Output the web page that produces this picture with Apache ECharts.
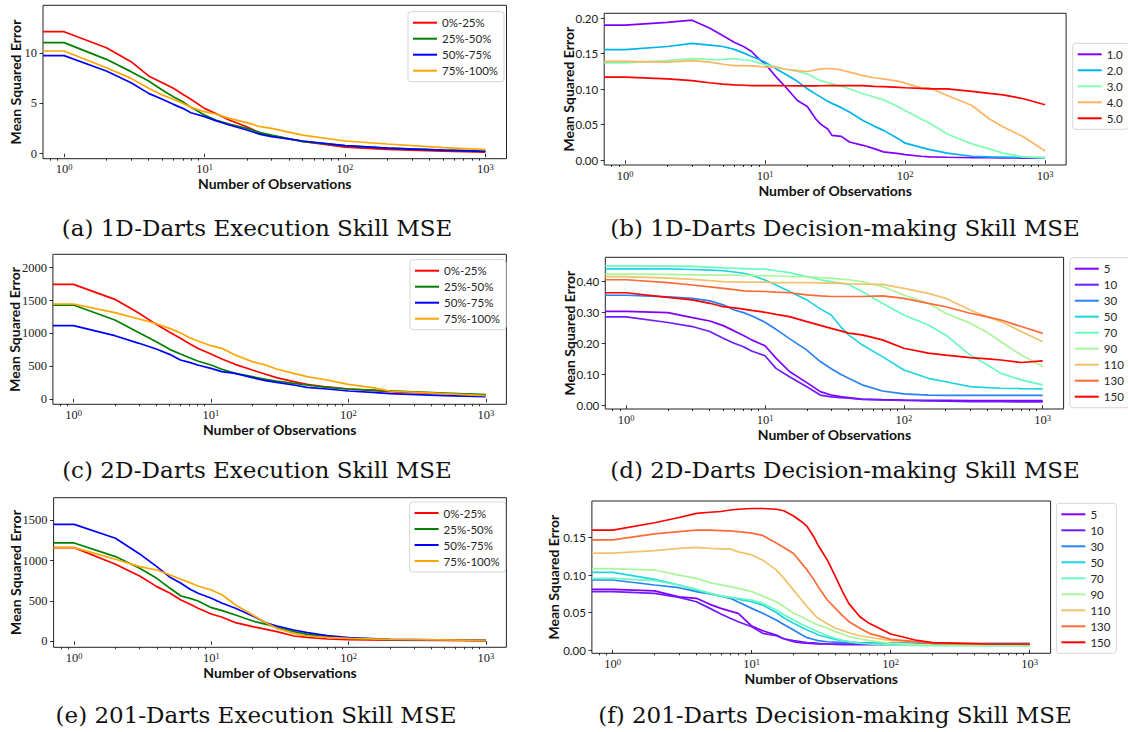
<!DOCTYPE html>
<html>
<head>
<meta charset="utf-8">
<script src="https://cdn.jsdelivr.net/npm/echarts@6/dist/echarts.min.js"></script>
<style>
  html, body { margin: 0; padding: 0; background: #fff; }
  #chart { width: 1128px; height: 732px; }
</style>
</head>
<body>
<div id="chart"></div>
<script>
// ---- shared axis values ----
const X_MIN = 0.708, X_MAX = 1413;            // log axis bounds (5% padding around 1..1000)
const X_MAJOR = [1, 10, 100, 1000];
const X_MINOR = [0.8, 0.9, 2, 3, 4, 5, 6, 7, 8, 9, 20, 30, 40, 50, 60, 70, 80, 90,
                 200, 300, 400, 500, 600, 700, 800, 900];

const QUART_NAMES = ['0%-25%', '25%-50%', '50%-75%', '75%-100%'];
const SKILL_1D_NAMES = ['1.0', '2.0', '3.0', '4.0', '5.0'];
const SKILL_2D_NAMES = ['5', '10', '30', '50', '70', '90', '110', '130', '150'];

const Y_TICKS_A = [0, 5, 10];
const Y_TICKS_B = [0, 0.05, 0.10, 0.15, 0.20];
const Y_TICKS_C = [0, 500, 1000, 1500, 2000];
const Y_TICKS_D = [0, 0.10, 0.20, 0.30, 0.40];
const Y_TICKS_E = [0, 500, 1000, 1500];
const Y_TICKS_F = [0, 0.05, 0.10, 0.15];

// ---- (a) 1D-Darts execution skill ----
const OBS_A = [1, 2, 3, 4, 5, 6, 7, 8, 10, 12, 15, 20, 25, 30, 50, 100, 200, 500, 1000];
const A_0_25   = [12.12, 10.53, 9.14, 7.72, 7.05, 6.49, 5.9, 5.4, 4.5, 4.0, 3.34, 2.68, 2.02, 1.79, 1.23, 0.65, 0.42, 0.25, 0.15];
const A_25_50  = [11.03, 9.37, 8.15, 7.22, 6.32, 5.66, 5.17, 4.6, 3.84, 3.34, 2.95, 2.52, 2.09, 1.85, 1.19, 0.80, 0.55, 0.35, 0.25];
const A_50_75  = [9.74, 8.21, 7.05, 5.99, 5.4, 4.9, 4.5, 4.07, 3.68, 3.28, 2.85, 2.35, 1.92, 1.69, 1.26, 0.80, 0.55, 0.35, 0.22];
const A_75_100 = [10.2, 8.54, 7.48, 6.49, 5.83, 5.4, 5.0, 4.6, 4.17, 3.94, 3.51, 3.08, 2.68, 2.52, 1.85, 1.26, 0.96, 0.6, 0.4];

// ---- (b) 1D-Darts decision-making skill ----
const OBS_B = [1, 2, 3, 4, 5, 6, 7, 8, 9, 10, 12, 14, 17, 20, 23, 25, 28, 30, 35, 40, 50, 60, 70, 90, 100, 130, 150, 200, 300, 400, 500, 700, 1000];
const B_1 = [0.190, 0.194, 0.197, 0.186, 0.175, 0.166, 0.160, 0.153, 0.1425, 0.1355, 0.117, 0.103, 0.084, 0.0757, 0.058, 0.0505, 0.044, 0.035, 0.0336, 0.0257, 0.021, 0.0164, 0.0117, 0.0093, 0.008, 0.0056, 0.0047, 0.0042, 0.0038, 0.0035, 0.0033, 0.0031, 0.003];
const B_2 = [0.1556, 0.160, 0.1645, 0.162, 0.160, 0.156, 0.151, 0.146, 0.142, 0.138, 0.1285, 0.121, 0.111, 0.1005, 0.093, 0.0888, 0.083, 0.080, 0.074, 0.0678, 0.056, 0.048, 0.042, 0.030, 0.024, 0.018, 0.015, 0.010, 0.0056, 0.0048, 0.0045, 0.004, 0.0037];
const B_3 = [0.137, 0.140, 0.143, 0.1416, 0.142, 0.143, 0.141, 0.140, 0.137, 0.1346, 0.131, 0.128, 0.125, 0.1215, 0.115, 0.112, 0.109, 0.1075, 0.104, 0.1005, 0.0935, 0.089, 0.085, 0.075, 0.070, 0.058, 0.052, 0.037, 0.023, 0.016, 0.010, 0.0047, 0.0033];
const B_4 = [0.139, 0.138, 0.140, 0.138, 0.135, 0.133, 0.133, 0.1327, 0.132, 0.131, 0.131, 0.128, 0.126, 0.1248, 0.127, 0.1285, 0.129, 0.129, 0.127, 0.124, 0.119, 0.116, 0.1145, 0.111, 0.1084, 0.102, 0.102, 0.091, 0.077, 0.058, 0.047, 0.033, 0.013];
const B_5 = [0.117, 0.1145, 0.112, 0.109, 0.107, 0.106, 0.1055, 0.105, 0.105, 0.105, 0.105, 0.1048, 0.1047, 0.1047, 0.1047, 0.1048, 0.105, 0.105, 0.105, 0.105, 0.105, 0.104, 0.1035, 0.1025, 0.102, 0.101, 0.1005, 0.1005, 0.097, 0.094, 0.092, 0.0865, 0.078];

// ---- (c) 2D-Darts execution skill ----
const OBS_C = [1, 2, 3, 4, 5, 6, 7, 8, 10, 12, 15, 20, 25, 30, 40, 50, 70, 100, 150, 200, 500, 1000];
const C_0_25   = [1746, 1518, 1305, 1137, 1015, 924, 843, 772, 685, 609, 528, 442, 376, 325, 264, 223, 183, 152, 130, 112, 81, 61];
const C_25_50  = [1431, 1203, 1010, 873, 756, 685, 629, 579, 518, 452, 391, 340, 299, 274, 239, 213, 178, 152, 135, 122, 91, 65];
const C_50_75  = [1117, 964, 848, 761, 680, 594, 558, 518, 467, 416, 391, 325, 279, 254, 213, 178, 152, 122, 100, 81, 51, 36];
const C_75_100 = [1447, 1315, 1218, 1147, 1076, 1010, 934, 883, 812, 772, 670, 569, 518, 457, 391, 340, 289, 223, 173, 122, 81, 51];

// ---- (d) 2D-Darts decision-making skill ----
const OBS_D = [1, 2, 3, 4, 5, 6, 7, 8, 10, 12, 15, 20, 25, 30, 35, 40, 50, 70, 100, 150, 200, 300, 400, 500, 700, 1000];
const D_5   = [0.303, 0.299, 0.283, 0.272, 0.257, 0.240, 0.225, 0.211, 0.192, 0.152, 0.109, 0.073, 0.044, 0.033, 0.028, 0.025, 0.020, 0.018, 0.017, 0.016, 0.016, 0.015, 0.015, 0.015, 0.015, 0.015];
const D_10  = [0.285, 0.267, 0.254, 0.238, 0.216, 0.200, 0.189, 0.175, 0.160, 0.119, 0.092, 0.060, 0.033, 0.027, 0.025, 0.0226, 0.019, 0.017, 0.016, 0.014, 0.013, 0.012, 0.012, 0.012, 0.011, 0.011];
const D_30  = [0.355, 0.35, 0.345, 0.337, 0.324, 0.3075, 0.299, 0.289, 0.268, 0.245, 0.215, 0.178, 0.141, 0.118, 0.100, 0.087, 0.066, 0.046, 0.037, 0.033, 0.032, 0.032, 0.032, 0.032, 0.032, 0.032];
const D_50  = [0.44, 0.44, 0.438, 0.436, 0.434, 0.43, 0.426, 0.42, 0.404, 0.388, 0.367, 0.340, 0.311, 0.291, 0.254, 0.227, 0.195, 0.157, 0.114, 0.087, 0.076, 0.060, 0.057, 0.055, 0.054, 0.053];
const D_70  = [0.45, 0.449, 0.448, 0.446, 0.443, 0.442, 0.441, 0.44, 0.439, 0.434, 0.428, 0.415, 0.405, 0.399, 0.394, 0.39, 0.367, 0.329, 0.291, 0.259, 0.227, 0.162, 0.130, 0.103, 0.082, 0.066];
const D_90  = [0.423, 0.422, 0.421, 0.42, 0.42, 0.42, 0.419, 0.419, 0.418, 0.417, 0.416, 0.415, 0.412, 0.41, 0.407, 0.405, 0.399, 0.383, 0.356, 0.329, 0.297, 0.265, 0.235, 0.205, 0.162, 0.125];
const D_110 = [0.415, 0.41, 0.406, 0.402, 0.399, 0.398, 0.397, 0.397, 0.397, 0.396, 0.396, 0.396, 0.395, 0.394, 0.393, 0.392, 0.391, 0.39, 0.377, 0.361, 0.345, 0.3075, 0.285, 0.270, 0.238, 0.205];
const D_130 = [0.405, 0.396, 0.388, 0.382, 0.377, 0.373, 0.369, 0.368, 0.367, 0.365, 0.363, 0.356, 0.353, 0.351, 0.351, 0.351, 0.351, 0.353, 0.345, 0.329, 0.318, 0.297, 0.285, 0.275, 0.254, 0.232];
const D_150 = [0.363, 0.348, 0.34, 0.329, 0.318, 0.314, 0.31, 0.306, 0.30, 0.293, 0.286, 0.27, 0.258, 0.248, 0.24, 0.233, 0.227, 0.211, 0.184, 0.168, 0.162, 0.154, 0.15, 0.146, 0.138, 0.143];

// ---- (e) 201-Darts execution skill ----
const OBS_E = [1, 2, 3, 4, 5, 6, 7, 8, 10, 12, 15, 20, 25, 30, 40, 50, 70, 100, 200, 1000];
const E_0_25   = [1161, 955, 810, 678, 595, 512, 459, 409, 339, 298, 231, 182, 149, 120, 66, 50, 29, 21, 14, 8];
const E_25_50  = [1219, 1050, 905, 781, 657, 562, 533, 500, 417, 380, 326, 252, 211, 174, 120, 87, 58, 37, 21, 12];
const E_50_75  = [1450, 1277, 1083, 926, 793, 719, 645, 595, 533, 471, 409, 314, 231, 190, 140, 107, 70, 45, 25, 12];
const E_75_100 = [1161, 1017, 926, 884, 822, 769, 727, 686, 636, 574, 450, 326, 231, 161, 99, 66, 50, 37, 25, 12];

// ---- (f) 201-Darts decision-making skill ----
const OBS_F = [1, 2, 3, 4, 5, 6, 7, 8, 10, 12, 15, 17, 20, 23, 25, 28, 30, 35, 40, 45, 50, 60, 70, 100, 150, 200, 500, 1000];
const F_5   = [0.081, 0.079, 0.071, 0.069, 0.061, 0.0556, 0.052, 0.049, 0.032, 0.0258, 0.020, 0.015, 0.0111, 0.0095, 0.009, 0.0085, 0.008, 0.008, 0.008, 0.008, 0.008, 0.008, 0.008, 0.008, 0.008, 0.0078, 0.0077, 0.0076];
const F_10  = [0.078, 0.0757, 0.0703, 0.0645, 0.0556, 0.048, 0.0423, 0.0378, 0.031, 0.0223, 0.0191, 0.015, 0.0125, 0.011, 0.010, 0.0095, 0.0089, 0.008, 0.0075, 0.0073, 0.0072, 0.0071, 0.0071, 0.0071, 0.007, 0.0068, 0.0067, 0.0067];
const F_30  = [0.0935, 0.0868, 0.0832, 0.078, 0.0748, 0.072, 0.069, 0.064, 0.0556, 0.049, 0.040, 0.034, 0.0267, 0.020, 0.0165, 0.014, 0.0125, 0.011, 0.0105, 0.010, 0.0098, 0.0095, 0.0094, 0.0093, 0.0091, 0.009, 0.0089, 0.0089];
const F_50  = [0.1037, 0.0943, 0.0868, 0.080, 0.0757, 0.072, 0.0703, 0.068, 0.0645, 0.060, 0.050, 0.043, 0.0356, 0.030, 0.0267, 0.023, 0.020, 0.017, 0.0142, 0.0125, 0.0111, 0.0095, 0.009, 0.008, 0.0075, 0.0073, 0.0072, 0.0071];
const F_70  = [0.0957, 0.0926, 0.0868, 0.081, 0.0757, 0.072, 0.0703, 0.069, 0.0668, 0.0623, 0.0534, 0.047, 0.040, 0.034, 0.031, 0.027, 0.0245, 0.019, 0.0156, 0.013, 0.0111, 0.009, 0.008, 0.0067, 0.006, 0.0057, 0.0054, 0.0053];
const F_90  = [0.1086, 0.1068, 0.100, 0.0957, 0.090, 0.087, 0.0846, 0.0823, 0.078, 0.072, 0.0645, 0.058, 0.049, 0.044, 0.040, 0.036, 0.0334, 0.029, 0.0245, 0.021, 0.0178, 0.015, 0.0125, 0.0089, 0.0075, 0.0067, 0.0063, 0.0062];
const F_110 = [0.1295, 0.1326, 0.1357, 0.137, 0.1357, 0.135, 0.135, 0.131, 0.127, 0.120, 0.107, 0.096, 0.080, 0.066, 0.058, 0.048, 0.0423, 0.035, 0.029, 0.026, 0.023, 0.019, 0.017, 0.0125, 0.011, 0.0098, 0.0085, 0.008];
const F_130 = [0.147, 0.155, 0.158, 0.160, 0.160, 0.1595, 0.159, 0.158, 0.156, 0.153, 0.143, 0.137, 0.129, 0.115, 0.107, 0.094, 0.0846, 0.0668, 0.0556, 0.046, 0.0378, 0.029, 0.0223, 0.0142, 0.0111, 0.0089, 0.0078, 0.0076];
const F_150 = [0.160, 0.170, 0.177, 0.1825, 0.184, 0.185, 0.187, 0.188, 0.189, 0.189, 0.188, 0.186, 0.179, 0.171, 0.165, 0.151, 0.140, 0.120, 0.098, 0.078, 0.062, 0.0445, 0.0356, 0.0214, 0.0134, 0.0098, 0.008, 0.008];

// ---- styling ----
const QUART_COLORS = ['#ff0000', '#008000', '#0000ff', '#ffa500'];
const RAINBOW_5 = ['#8000ff', '#00b4eb', '#80ffb4', '#ffb462', '#ff0000'];
const RAINBOW_9 = ['#8000ff', '#6e1bff', '#2882f6', '#1fd3e1', '#65fcc0', '#abf59a', '#f2c26b', '#ff6a37', '#ff0000'];

const SERIF = '"Liberation Serif", "DejaVu Serif", serif';
const SANS = 'Lato, "DejaVu Sans", sans-serif';
const INK = '#1a1a1a';

const panels = [
  { obs: OBS_A, names: QUART_NAMES, colors: QUART_COLORS, values: [A_0_25, A_25_50, A_50_75, A_75_100],
    yMin: -0.5, yMax: 14.74, yTicks: Y_TICKS_A, digits: 0, serifY: true,
    grid: { left: 43, top: 5.3, width: 463.5, height: 153.4 }, yNameGap: 21, xNameGap: 18,
    legend: { left: 408, top: 11.7 },
    caption: { text: '(a) 1D-Darts Execution Skill MSE', x: 257, y: 228 } },
  { obs: OBS_B, names: SKILL_1D_NAMES, colors: RAINBOW_5, values: [B_1, B_2, B_3, B_4, B_5],
    yMin: -0.0067, yMax: 0.2067, yTicks: Y_TICKS_B, digits: 2, serifY: false,
    grid: { left: 604.2, top: 13.3, width: 461.9, height: 151.7 }, yNameGap: 29, xNameGap: 18,
    legend: { left: 1072.7, top: 43.3 },
    caption: { text: '(b) 1D-Darts Decision-making Skill MSE', x: 845, y: 228 } },
  { obs: OBS_C, names: QUART_NAMES, colors: QUART_COLORS, values: [C_0_25, C_25_50, C_50_75, C_75_100],
    yMin: -81, yMax: 2204, yTicks: Y_TICKS_C, digits: 0, serifY: true,
    grid: { left: 52.9, top: 254.3, width: 453.5, height: 150 }, yNameGap: 31, xNameGap: 17.8,
    legend: { left: 410, top: 259.7 },
    caption: { text: '(c) 2D-Darts Execution Skill MSE', x: 257, y: 470 } },
  { obs: OBS_D, names: SKILL_2D_NAMES, colors: RAINBOW_9, values: [D_5, D_10, D_30, D_50, D_70, D_90, D_110, D_130, D_150],
    yMin: -0.012, yMax: 0.4774, yTicks: Y_TICKS_D, digits: 2, serifY: false,
    grid: { left: 605.3, top: 257.3, width: 458.3, height: 151.7 }, yNameGap: 29, xNameGap: 18,
    legend: { left: 1069.8, top: 257.7 },
    caption: { text: '(d) 2D-Darts Decision-making Skill MSE', x: 845, y: 470 } },
  { obs: OBS_E, names: QUART_NAMES, colors: QUART_COLORS, values: [E_0_25, E_25_50, E_50_75, E_75_100],
    yMin: -74, yMax: 1780, yTicks: Y_TICKS_E, digits: 0, serifY: true,
    grid: { left: 53.6, top: 497.7, width: 452.8, height: 149.6 }, yNameGap: 31.5, xNameGap: 18.4,
    legend: { left: 409.6, top: 502 },
    caption: { text: '(e) 201-Darts Execution Skill MSE', x: 256, y: 715 } },
  { obs: OBS_F, names: SKILL_2D_NAMES, colors: RAINBOW_9, values: [F_5, F_10, F_30, F_50, F_70, F_90, F_110, F_130, F_150],
    yMin: -0.0044, yMax: 0.199, yTicks: Y_TICKS_F, digits: 2, serifY: false,
    grid: { left: 591.9, top: 501, width: 458.7, height: 152.3 }, yNameGap: 31, xNameGap: 18,
    legend: { left: 1056.4, top: 503.3 },
    caption: { text: '(f) 201-Darts Decision-making Skill MSE', x: 835, y: 715 } }
];

// The n = 0 estimate lies left of the log axis; it is carried flat to the axis edge.
function toPairs(obs, vals) {
  const pts = [[X_MIN, vals[0]]];
  obs.forEach((n, i) => pts.push([n, vals[i]]));
  return pts;
}

const tickLine = { color: '#000', width: 0.8 };
const grids = [], xAxes = [], yAxes = [], series = [], legends = [], graphics = [];

panels.forEach((p, i) => {
  grids.push(Object.assign({
    show: true, borderColor: '#222', borderWidth: 1, backgroundColor: 'transparent',
    containLabel: false, outerBoundsMode: 'none'
  }, p.grid));

  // major ticks with labels 10^k
  xAxes.push({
    gridIndex: i, position: 'bottom', type: 'log', logBase: 10, min: X_MIN, max: X_MAX,
    axisLine: { show: false }, splitLine: { show: false }, minorTick: { show: false },
    axisTick: { show: true, customValues: X_MAJOR, length: 3.5, lineStyle: tickLine },
    axisLabel: {
      customValues: X_MAJOR, margin: 4, hideOverlap: false,
      formatter: v => '{b|10}{s|' + Math.round(Math.log10(v)) + '}',
      rich: {
        b: { fontFamily: SERIF, fontSize: 12.5, color: INK, lineHeight: 13 },
        s: { fontFamily: SERIF, fontSize: 8.5, color: INK, lineHeight: 8, verticalAlign: 'top' }
      }
    },
    name: 'Number of Observations', nameLocation: 'middle', nameGap: p.xNameGap, nameMoveOverlap: false,
    nameTextStyle: { fontFamily: SANS, fontWeight: 'bold', fontSize: 14, color: '#111', lineHeight: 14 }
  });
  // minor ticks only, on the same bottom edge
  xAxes.push({
    gridIndex: i, position: 'bottom', type: 'log', logBase: 10, min: X_MIN, max: X_MAX,
    axisLine: { show: false }, splitLine: { show: false }, minorTick: { show: false },
    axisTick: { show: true, customValues: X_MINOR, length: 2, lineStyle: tickLine },
    axisLabel: { show: false }
  });

  yAxes.push({
    gridIndex: i, position: 'left', type: 'value', min: p.yMin, max: p.yMax,
    axisLine: { show: false }, splitLine: { show: false },
    axisTick: { show: true, customValues: p.yTicks, length: 3.5, lineStyle: tickLine },
    axisLabel: {
      customValues: p.yTicks, margin: 6, hideOverlap: false,
      formatter: v => Number(v).toFixed(p.digits),
      fontFamily: p.serifY ? SERIF : SANS, fontSize: p.serifY ? 12.5 : 11.5, color: INK
    },
    name: 'Mean Squared Error', nameLocation: 'middle', nameGap: p.yNameGap, nameRotate: 90, nameMoveOverlap: false,
    nameTextStyle: { fontFamily: SANS, fontWeight: 'bold', fontSize: 14, color: '#111', lineHeight: 14 }
  });

  p.names.forEach((name, k) => {
    series.push({
      type: 'line', name: name, xAxisIndex: 2 * i, yAxisIndex: i,
      data: toPairs(p.obs, p.values[k]),
      showSymbol: false, symbol: 'none', clip: true, silent: true,
      lineStyle: { width: 1.7, color: p.colors[k] }, itemStyle: { color: p.colors[k] },
      emphasis: { disabled: true }
    });
  });

  legends.push({
    orient: 'vertical', left: p.legend.left, top: p.legend.top,
    data: p.names, icon: 'rect', itemWidth: 24, itemHeight: 2, itemGap: 3,
    padding: [4.5, 6, 4.5, 5], backgroundColor: '#fff',
    borderColor: '#d6d6d6', borderWidth: 1, borderRadius: 3, selectedMode: false,
    textStyle: { fontFamily: SANS, fontSize: 11.5, color: '#262626', lineHeight: 13 }
  });

  graphics.push({
    type: 'text', x: p.caption.x, y: p.caption.y, silent: true,
    style: {
      text: p.caption.text, fill: '#111',
      font: '23px "DejaVu Serif", "Liberation Serif", serif',
      align: 'center', verticalAlign: 'middle',
      textAlign: 'center', textVerticalAlign: 'middle'
    }
  });
});

const chart = echarts.init(document.getElementById('chart'), null, { renderer: 'svg' });
chart.setOption({
  backgroundColor: '#fff',
  animation: false,
  grid: grids,
  xAxis: xAxes,
  yAxis: yAxes,
  legend: legends,
  series: series,
  graphic: graphics
});
</script>
</body>
</html>
